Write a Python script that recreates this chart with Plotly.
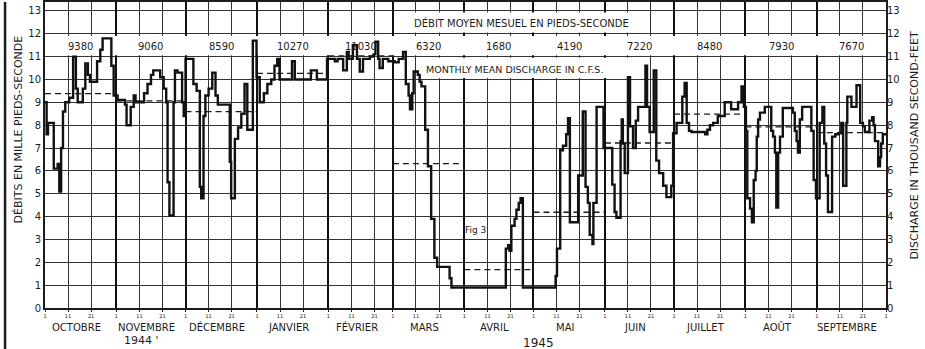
import plotly.graph_objects as go

# ---------------- data ----------------
month_names = ["OCTOBRE", "NOVEMBRE", "DÉCEMBRE", "JANVIER", "FÉVRIER", "MARS",
               "AVRIL", "MAI", "JUIN", "JUILLET", "AOÛT", "SEPTEMBRE"]
month_start = [0, 31, 61, 92, 123, 151, 182, 212, 243, 273, 304, 335]
period_end = 365
monthly_mean_cfs = [9380, 9060, 8590, 10270, 11030, 6320, 1680, 4190, 7220, 8480, 7930, 7670]
y_ticks = list(range(0, 14))

# daily discharge (thousand c.f.s.), day 0 = 1 Oct 1944, step breakpoints
day = [0, 0.7, 1.3, 3.8, 5.5, 6.2, 7.0, 7.8, 8.8, 10.5, 12.2, 13.4, 14.2, 16.4, 17.5, 18.6,
       19.5, 22.6, 24.0, 25.0, 28.8, 29.8,
       31.5, 34.7, 35.4, 37.2, 38.5, 39.3, 43.0, 44.5, 46.0, 47.0, 50.0, 51.5, 52.6, 53.2,
       54.0, 55.8, 56.4, 57.5, 59.5,
       60.2, 61.0, 64.4, 65.8, 67.2, 67.8, 68.8, 69.6, 71.0, 72.6, 74.0, 75.0, 80.2, 80.8,
       82.4, 83.8, 85.2, 86.6, 87.8, 90.2, 91.8,
       93.2, 95.0, 96.5, 98.2, 99.6, 100.8, 101.8, 107.2, 108.4, 115.4, 118.0,
       122.4, 125.8, 127.0, 129.4, 131.0, 131.8, 133.6, 135.4, 136.6, 138.0, 141.0, 142.6,
       143.4, 144.6, 145.2, 146.6, 149.0,
       151.8, 153.5, 155.4, 156.6, 157.8, 158.4, 159.4, 160.0, 161.8, 162.6, 163.4, 165.0,
       166.2, 167.6, 169.0, 170.2, 175.6, 176.4,
       200.0, 201.0, 201.6, 202.4, 203.8, 204.6, 205.6, 206.4, 207.4,
       221.6, 222.2, 223.6, 224.8, 226.2, 227.0, 227.8, 231.4, 233.4, 234.6, 235.6, 236.4,
       237.6, 238.0, 239.4,
       242.4, 246.2, 247.2, 248.0, 249.8, 250.3, 250.8, 251.6, 253.0, 253.9, 255.2, 256.4,
       257.4, 260.6, 261.3, 262.4, 264.2, 265.3, 266.5, 268.3, 269.7, 271.8,
       272.6, 274.1, 276.6, 277.6, 278.5, 279.5, 280.6, 286.5, 287.5, 288.6, 290.0, 292.0,
       295.0, 297.8, 300.8, 302.3, 303.3,
       304.2, 304.8, 306.0, 306.8, 307.6, 308.4, 308.9, 309.5, 310.3, 312.4, 315.2, 316.0,
       316.8, 317.4, 318.2, 319.0, 320.2, 324.6, 325.4, 326.2, 326.8, 327.6, 328.6, 332.6,
       333.6, 334.6,
       336.2, 337.4, 338.2, 339.0, 339.8, 341.6, 343.0, 344.3, 345.6, 346.4, 347.8, 348.2,
       350.0, 352.2, 353.8, 355.0, 355.8, 357.8, 359.0, 359.6, 360.2, 361.6, 362.4, 362.9,
       363.6, 365.0]
flow = [9.0, 7.6, 8.1, 6.1, 6.3, 5.1, 7.0, 8.6, 9.0, 9.2, 11.0, 9.6, 9.0, 9.6, 10.7, 10.2,
        9.9, 10.8, 11.3, 11.8, 10.6, 9.3,
        9.1, 8.9, 8.0, 8.8, 9.3, 9.0, 9.4, 9.8, 10.2, 10.4, 10.1, 9.6, 9.0, 5.5,
        4.05, 9.0, 10.4, 10.3, 9.0,
        8.4, 10.9, 9.8, 9.5, 5.3, 4.8, 8.4, 9.3, 9.6, 10.3, 9.3, 8.9, 6.4, 4.8,
        7.4, 7.9, 8.5, 9.8, 7.8, 11.7, 10.1,
        9.0, 9.4, 9.8, 10.0, 10.6, 10.9, 10.0, 10.8, 10.0, 10.4, 10.0,
        10.9, 10.8, 10.9, 10.4, 11.2, 10.9, 11.5, 10.9, 10.35, 10.9, 11.0, 11.1,
        11.65, 10.9, 10.5, 10.9, 10.8,
        10.75, 10.9, 11.2, 9.8, 9.3, 8.7, 9.4, 10.35, 10.2, 9.9, 9.7, 7.8,
        6.2, 3.9, 2.2, 1.8, 1.3, 0.9,
        2.6, 2.75, 2.5, 3.6, 3.9, 4.3, 4.6, 4.8, 0.9,
        1.4, 2.6, 6.9, 7.1, 7.6, 8.3, 3.75, 5.8, 8.6, 5.3, 4.6, 3.2,
        2.8, 4.6, 8.8,
        7.0, 5.4, 4.2, 3.95, 7.3, 8.25, 7.2, 5.9, 10.1, 7.95, 7.0, 8.2,
        8.8, 10.6, 8.8, 7.7, 10.4, 6.45, 5.9, 5.35, 4.85, 5.35,
        7.65, 8.1, 9.25, 9.85, 8.1, 7.75, 7.7, 7.6, 7.8, 8.0, 8.1, 8.4,
        9.0, 8.7, 9.0, 9.7, 8.8,
        7.75, 4.8, 4.35, 3.75, 5.6, 6.0, 7.5, 8.25, 8.55, 8.8, 7.75, 7.5,
        6.8, 4.4, 6.8, 7.5, 8.75, 8.55, 7.75, 7.3, 6.8, 8.25, 8.8, 7.75,
        5.6, 4.8,
        8.1, 8.8, 7.2, 5.8, 4.2, 7.5, 7.6, 7.65, 8.1, 5.35, 8.1, 9.25,
        8.8, 9.75, 8.1, 7.95, 7.7, 8.2, 8.35, 8.0, 7.3, 6.2, 6.6, 7.2,
        7.6, 7.6]

# ---------------- derived ----------------
month_end = month_start[1:] + [period_end]
month_mid = [(a + b) / 2 for a, b in zip(month_start, month_end)]
ten_day = []
ten_lbl = []
for s in month_start:
    for off, lbl in ((0, "1"), (10, "11"), (20, "21")):
        ten_day.append(s + off)
        ten_lbl.append(lbl)
ten_day.append(period_end)
ten_lbl.append("1")

mean_x, mean_y = [], []
for a, b, m in zip(month_start, month_end, monthly_mean_cfs):
    mean_x += [a, b, None]
    mean_y += [m / 1000, m / 1000, None]

INK = "#1c1c1c"
FONT = "DejaVu Sans"
YMAX = 13.39

fig = go.Figure()
fig.add_trace(go.Scatter(x=[0, period_end], y=[0, 0], xaxis="x2", yaxis="y2",
                         mode="lines", line=dict(width=0), opacity=0, hoverinfo="skip"))
fig.add_trace(go.Scatter(x=mean_x, y=mean_y, mode="lines",
                         line=dict(color=INK, width=1.3, dash="6px,4px"), hoverinfo="skip"))
fig.add_trace(go.Scatter(x=day, y=flow, mode="lines", line_shape="hv",
                         line=dict(color="#111111", width=2.4)))

shapes = [
    # white label bands above the grid, below the curve
    dict(type="rect", xref="x", yref="y", x0=0.3, x1=period_end - 0.3, y0=11.06, y1=11.9,
         fillcolor="white", line=dict(width=0), layer="between"),
    dict(type="rect", xref="x", yref="y", x0=151.5, x1=255, y0=12.06, y1=12.93,
         fillcolor="white", line=dict(width=0), layer="between"),
    dict(type="rect", xref="x", yref="y", x0=163.5, x1=255, y0=10.06, y1=10.95,
         fillcolor="white", line=dict(width=0), layer="between"),
    # scan border on the left
    dict(type="line", xref="paper", yref="paper", x0=-0.0475, x1=-0.0475, y0=-0.14, y1=1.0,
         line=dict(color=INK, width=2.5)),
]

ann = []
for name, mid in zip(month_names, month_mid):
    ann.append(dict(x=mid, y=-0.063, xref="x", yref="paper", text=name, showarrow=False,
                    xshift=-4, yanchor="middle", font=dict(size=10, color=INK, family=FONT)))
for m, mid in zip(monthly_mean_cfs, month_mid):
    ann.append(dict(x=mid, y=11.45, xref="x", yref="y", text=str(m), showarrow=False,
                    yanchor="middle", font=dict(size=10, color=INK, family=FONT)))
ann += [
    dict(x=207, y=12.45, xref="x", yref="y", text="DÉBIT MOYEN MESUEL EN PIEDS-SECONDE",
         showarrow=False, yanchor="middle", font=dict(size=10, color=INK, family=FONT)),
    dict(x=164.5, y=10.42, xref="x", yref="y", text="MONTHLY MEAN DISCHARGE IN C.F.S.",
         xanchor="left", yanchor="middle", showarrow=False,
         font=dict(size=9.5, color=INK, family=FONT)),
    dict(x=187, y=3.4, xref="x", yref="y", text="Fig 3", showarrow=False, yanchor="middle",
         font=dict(size=9, color=INK, family=FONT)),
    dict(x=42, y=-0.107, xref="x", yref="paper", text="1944 '", showarrow=False,
         yanchor="middle", font=dict(size=11, color=INK, family=FONT)),
    dict(x=214, y=-0.114, xref="x", yref="paper", text="1945", showarrow=False,
         yanchor="middle", font=dict(size=12, color=INK, family=FONT)),
    dict(x=-0.032, y=0.27, xref="paper", yref="paper", text="DÉBITS EN MILLE PIEDS-SECONDE",
         textangle=-90, xanchor="center", yanchor="bottom", showarrow=False,
         font=dict(size=11, color=INK, family=FONT)),
    dict(x=1.0345, y=0.15, xref="paper", yref="paper", text="DISCHARGE IN THOUSAND SECOND-FEET",
         textangle=-90, xanchor="center", yanchor="bottom", showarrow=False,
         font=dict(size=11, color=INK, family=FONT)),
]

fig.update_layout(
    width=925, height=349,
    margin=dict(l=45, r=39, t=0, b=41),
    paper_bgcolor="white", plot_bgcolor="white",
    showlegend=False,
    font=dict(family=FONT, color=INK),
    xaxis=dict(range=[0, period_end], tickmode="array", tickvals=ten_day, ticktext=ten_lbl,
               tickfont=dict(size=5, color=INK), ticks="outside", ticklen=2, tickcolor=INK,
               showgrid=True, gridcolor="#333333", gridwidth=1.2, zeroline=False,
               showline=True, linecolor=INK, linewidth=2, mirror=True),
    xaxis2=dict(overlaying="x", range=[0, period_end], tickmode="array",
                tickvals=month_start + [period_end], showticklabels=False, ticks="",
                showgrid=True, gridcolor="#111111", gridwidth=2.4, zeroline=False),
    yaxis=dict(range=[0, YMAX], tickmode="array", tickvals=y_ticks,
               tickfont=dict(size=10, color=INK), ticks="",
               showgrid=True, gridcolor="#333333", gridwidth=1.3, zeroline=False,
               showline=True, linecolor=INK, linewidth=2, mirror=True),
    yaxis2=dict(overlaying="y", side="right", range=[0, YMAX], tickmode="array",
                tickvals=y_ticks, tickfont=dict(size=10, color=INK), ticks="",
                showgrid=False, zeroline=False),
    shapes=shapes,
    annotations=ann,
)

fig.write_html("out.html")
